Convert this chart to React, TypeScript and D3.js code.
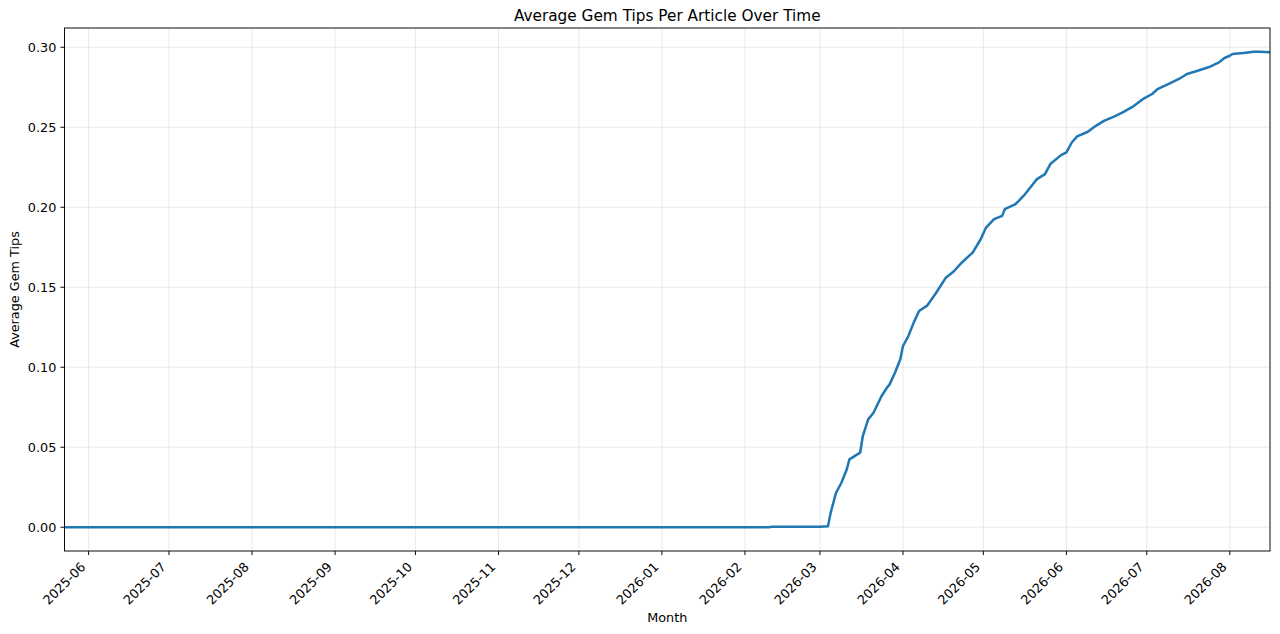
import { useEffect } from 'react';
import * as d3 from 'd3';

// dates and values
const dates = [
  '2025-05-23', '2026-02-10', '2026-02-11', '2026-03-01', '2026-03-04', '2026-03-05',
  '2026-03-07', '2026-03-09', '2026-03-11', '2026-03-12', '2026-03-16', '2026-03-17',
  '2026-03-19', '2026-03-21', '2026-03-24', '2026-03-26', '2026-03-27', '2026-03-29',
  '2026-03-31', '2026-04-01', '2026-04-03', '2026-04-05', '2026-04-07', '2026-04-10',
  '2026-04-13', '2026-04-15', '2026-04-17', '2026-04-20', '2026-04-23', '2026-04-27',
  '2026-04-30', '2026-05-02', '2026-05-05', '2026-05-08', '2026-05-09', '2026-05-13',
  '2026-05-16', '2026-05-18', '2026-05-21', '2026-05-24', '2026-05-26', '2026-05-30',
  '2026-06-01', '2026-06-03', '2026-06-05', '2026-06-09', '2026-06-12', '2026-06-15',
  '2026-06-19', '2026-06-22', '2026-06-26', '2026-06-30', '2026-07-03', '2026-07-05',
  '2026-07-09', '2026-07-13', '2026-07-16', '2026-07-20', '2026-07-24', '2026-07-28',
  '2026-07-30', '2026-08-01', '2026-08-02', '2026-08-06', '2026-08-10', '2026-08-12',
  '2026-08-16'
];
const values = [
  0, 0, 0.0003, 0.0003, 0.0006, 0.009,
  0.0215, 0.0278, 0.0361, 0.0424, 0.0466, 0.0569,
  0.0674, 0.0716, 0.082, 0.0872, 0.0893, 0.0966,
  0.105, 0.1133, 0.1195, 0.1279, 0.1352, 0.1385,
  0.1456, 0.1508, 0.156, 0.160, 0.1655, 0.1717,
  0.180, 0.1873, 0.1926, 0.1946, 0.1988, 0.2019,
  0.2071, 0.2113, 0.2176, 0.2207, 0.227, 0.2326,
  0.2343, 0.2405, 0.2443, 0.2472, 0.2509, 0.254,
  0.2568, 0.2593, 0.2631, 0.2681, 0.2708, 0.2739,
  0.277, 0.2802, 0.2833, 0.2853, 0.2875, 0.2906,
  0.2933, 0.2947, 0.2958, 0.2964, 0.2972, 0.2972,
  0.2969
];
const yTicks = [0, 0.05, 0.1, 0.15, 0.2, 0.25, 0.3];
const monthTicks = [
  '2025-06', '2025-07', '2025-08', '2025-09', '2025-10', '2025-11', '2025-12',
  '2026-01', '2026-02', '2026-03', '2026-04', '2026-05', '2026-06', '2026-07', '2026-08'
];

const W = 1280;
const H = 634;
const margin = { top: 28, right: 10, bottom: 83, left: 64.5 };
const font = '"DejaVu Sans", sans-serif';
const tickSize = 12.8;

export default function App() {
  useEffect(() => {
    document.body.style.margin = '0';
  }, []);

  const parse = d3.utcParse('%Y-%m-%d');
  const data = dates.map((d, i) => ({ date: parse(d) as Date, value: values[i] }));

  const x = d3
    .scaleUtc()
    .domain(d3.extent(data, (d) => d.date) as [Date, Date])
    .range([margin.left, W - margin.right]);

  const vmax = d3.max(values) as number;
  const pad = vmax * 0.05;
  const y = d3
    .scaleLinear()
    .domain([-pad, vmax + pad])
    .range([H - margin.bottom, margin.top]);

  const line = d3
    .line<{ date: Date; value: number }>()
    .x((d) => x(d.date))
    .y((d) => y(d.value));

  const monthDates = monthTicks.map((m) => parse(m + '-01') as Date);
  const bottom = H - margin.bottom;
  const left = margin.left;
  const right = W - margin.right;

  return (
    <svg width={W} height={H} style={{ display: 'block' }} fontFamily={font}>
      <rect x={0} y={0} width={W} height={H} fill="#fff" />
      {/* grid */}
      <g stroke="#b0b0b0" strokeOpacity={0.3} strokeWidth={0.9}>
        {monthDates.map((d, i) => (
          <line key={'gx' + i} x1={x(d)} x2={x(d)} y1={margin.top} y2={bottom} />
        ))}
        {yTicks.map((t, i) => (
          <line key={'gy' + i} x1={left} x2={right} y1={y(t)} y2={y(t)} />
        ))}
      </g>
      <path d={line(data) ?? ''} fill="none" stroke="#1f77b4" strokeWidth={2.5} strokeLinejoin="round" />
      {/* spines */}
      <rect x={left} y={margin.top} width={right - left} height={bottom - margin.top} fill="none" stroke="#000" strokeWidth={0.95} />
      {/* y ticks */}
      {yTicks.map((t, i) => (
        <g key={'yt' + i}>
          <line x1={left - 4.1} x2={left} y1={y(t)} y2={y(t)} stroke="#000" strokeWidth={0.95} />
          <text x={left - 8.2} y={y(t)} dy="0.35em" textAnchor="end" fontSize={tickSize} fill="#000">
            {d3.format('.2f')(t)}
          </text>
        </g>
      ))}
      {/* x ticks */}
      {monthDates.map((d, i) => (
        <g key={'xt' + i}>
          <line x1={x(d)} x2={x(d)} y1={bottom} y2={bottom + 4.1} stroke="#000" strokeWidth={0.95} />
          <text
            transform={`translate(${x(d) - 5.5},${bottom + 13.5}) rotate(-45)`}
            dy="0.35em"
            textAnchor="end"
            fontSize={tickSize}
            fill="#000"
          >
            {monthTicks[i]}
          </text>
        </g>
      ))}
      <text x={(left + right) / 2} y={622} textAnchor="middle" fontSize={tickSize} fill="#000">
        Month
      </text>
      <text
        transform={`translate(19,${(margin.top + bottom) / 2}) rotate(-90)`}
        textAnchor="middle"
        fontSize={tickSize}
        fill="#000"
      >
        Average Gem Tips
      </text>
      <text x={(left + right) / 2} y={21} textAnchor="middle" fontSize={15.3} fill="#000">
        Average Gem Tips Per Article Over Time
      </text>
    </svg>
  );
}
